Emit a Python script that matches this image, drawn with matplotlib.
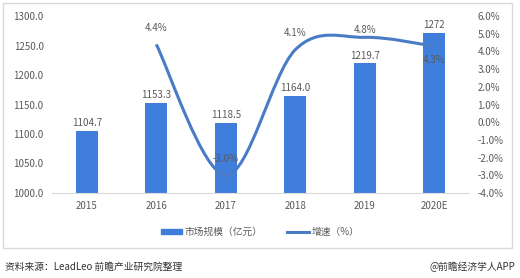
import matplotlib
matplotlib.use("Agg")
import matplotlib.pyplot as plt
from matplotlib.path import Path
from matplotlib.patches import PathPatch, Rectangle
from matplotlib.lines import Line2D
from matplotlib.patches import Patch
import numpy as np

plt.rcParams['font.family'] = ['Noto Sans CJK SC', 'DejaVu Sans']

years = ["2015", "2016", "2017", "2018", "2019", "2020E"]
market = [1104.7, 1153.3, 1118.5, 1164.0, 1219.7, 1272]
market_labels = ["1104.7", "1153.3", "1118.5", "1164.0", "1219.7", "1272"]
growth_years = [1, 2, 3, 4, 5]
growth = [4.4, -3.0, 4.1, 4.8, 4.3]

bar_color = "#3f7fdb"
line_color = "#4a7cc6"
text_color = "#595959"

fig = plt.figure(figsize=(5.2, 2.78), dpi=100)
fig.patch.set_facecolor("white")
fig.patches.append(Rectangle((0.006, 0.108), 0.979, 0.881, transform=fig.transFigure,
                             fill=False, edgecolor="#d9d9d9", lw=1))

ax = fig.add_axes([0.1, 0.306, 0.802, 0.636])
x = np.arange(len(years))
ax.bar(x, market, width=0.32, color=bar_color, zorder=2)
ax.set_ylim(1000, 1300)
ax.set_xlim(-0.5, 5.5)
ax.set_yticks(np.arange(1000, 1301, 50))
ax.set_yticklabels(["{:.1f}".format(v) for v in np.arange(1000, 1301, 50)])
ax.set_xticks(x)
ax.set_xticklabels(years)
for s in ["top", "left", "right"]:
    ax.spines[s].set_visible(False)
ax.spines["bottom"].set_color("#d9d9d9")
ax.tick_params(length=0, labelsize=7, colors=text_color, pad=6)
for i, v in enumerate(market):
    ax.text(i, v + 5, market_labels[i], ha="center", va="bottom", fontsize=7, color=text_color)

ax2 = ax.twinx()
ax2.set_ylim(-4, 6)
ax2.set_yticks(np.arange(-4, 6.1, 1))
ax2.set_yticklabels(["{:.1f}%".format(v) for v in np.arange(-4, 6.1, 1)])
for s in ["top", "left", "right", "bottom"]:
    ax2.spines[s].set_visible(False)
ax2.tick_params(length=0, labelsize=7, colors=text_color, pad=6)

# smoothed line (Catmull-Rom bezier like Excel)
px = np.array(growth_years, dtype=float)
py = np.array(growth, dtype=float)
verts = [(px[0], py[0])]
codes = [Path.MOVETO]
n = len(px)
for i in range(n - 1):
    p0 = (px[i - 1], py[i - 1]) if i > 0 else (px[i], py[i])
    p1 = (px[i], py[i])
    p2 = (px[i + 1], py[i + 1])
    p3 = (px[i + 2], py[i + 2]) if i + 2 < n else (px[i + 1], py[i + 1])
    c1 = (p1[0] + (p2[0] - p0[0]) / 6, p1[1] + (p2[1] - p0[1]) / 6)
    c2 = (p2[0] - (p3[0] - p1[0]) / 6, p2[1] - (p3[1] - p1[1]) / 6)
    verts += [c1, c2, p2]
    codes += [Path.CURVE4] * 3
ax2.add_patch(PathPatch(Path(verts, codes), fill=False, edgecolor=line_color, lw=2.2, zorder=3))

offsets = [12, 12, 12, 5, -10]
for xi, yi, off in zip(px, py, offsets):
    ax2.annotate("{:.1f}%".format(yi), (xi, yi), xytext=(0, off), textcoords="offset points",
                 ha="center", va="center", fontsize=7, color=text_color, zorder=4)

handles = [Patch(color=bar_color), Line2D([0], [0], color=line_color, lw=2.2)]
fig.legend(handles, ["市场规模（亿元）", "增速（%）"], loc="center", bbox_to_anchor=(0.5, 0.165),
           ncol=2, frameon=False, fontsize=7, labelcolor=text_color, handlelength=2.2,
           handleheight=0.5, columnspacing=2.5, handletextpad=0.3)

fig.text(0.01, 0.04, "资料来源：LeadLeo 前瞻产业研究院整理", fontsize=7, color="#333333", va="center")
fig.text(0.99, 0.04, "@前瞻经济学人APP", fontsize=7, color="#333333", va="center", ha="right")

fig.savefig("out.png", dpi=100)
